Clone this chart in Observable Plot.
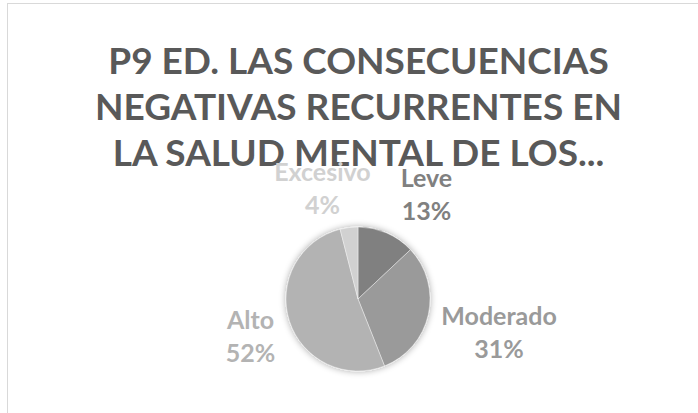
<!DOCTYPE html>
<html><head><meta charset="utf-8">
<script src="https://cdn.jsdelivr.net/npm/d3@7"></script>
<script src="https://cdn.jsdelivr.net/npm/@observablehq/plot@0.6"></script>
<style>
html,body{margin:0;padding:0;background:#fff;overflow:hidden}
#wrap{position:relative;width:698px;height:413px;overflow:hidden;background:#fff}
#border{position:absolute;left:7px;top:3px;width:720px;height:440px;border:1.5px solid #d9d9d9;box-sizing:border-box}
#chart{position:absolute;left:0;top:0}
</style></head><body>
<div id="wrap"><div id="border"></div><div id="chart"></div></div>
<script>
const titleLines = ["P9 ED. LAS CONSECUENCIAS", "NEGATIVAS RECURRENTES EN", "LA SALUD MENTAL DE LOS..."];
const categories = ["Leve", "Moderado", "Alto", "Excesivo"];
const values = [13, 31, 52, 4];
const colors = ["#808080", "#9a9a9a", "#b3b3b3", "#d1d1d1"];

const W = 698, H = 413, R = 72;
const FONT = "Lato";
const labelSize = 25, labelLH = 1.32;

const data = categories.map((c, i) => ({name: c, value: values[i], color: colors[i]}));
const total = d3.sum(values);
const arcs = d3.pie().sort(null).value(d => d.value)(data);

// measure text
const ctx = document.createElement("canvas").getContext("2d");
ctx.font = `bold ${labelSize}px ${FONT}`;
const tw = s => ctx.measureText(s).width;

const gap = 10, boxH = 52, minGapX = 30;
const labels = arcs.map(a => {
  const mid = (a.startAngle + a.endAngle) / 2;
  const ux = Math.sin(mid), uy = Math.cos(mid);
  const pct = Math.round(a.data.value / total * 100) + "%";
  const w = Math.max(tw(a.data.name), tw(pct));
  const d = R + gap + Math.abs(ux) * w / 2 + Math.abs(uy) * boxH / 2;
  return {name: a.data.name, pct, color: a.data.color, x: ux * d, y: uy * d, w};
});
// resolve overlaps horizontally
for (let i = 0; i < labels.length; i++) {
  for (let j = i + 1; j < labels.length; j++) {
    const A = labels[i], B = labels[j];
    if (Math.abs(A.y - B.y) >= boxH) continue;
    const [L, Rt] = A.x < B.x ? [A, B] : [B, A];
    const space = (Rt.x - Rt.w / 2) - (L.x + L.w / 2);
    if (space < minGapX) {
      const s = (minGapX - space) / 2;
      L.x -= s; Rt.x += s;
    }
  }
}

function pieMark(index, scales) {
  const cx = scales.x(0), cy = scales.y(0), r = scales.x(R) - scales.x(0);
  const arc = d3.arc().innerRadius(0).outerRadius(r);
  const g = d3.create("svg:g");
  const f = g.append("defs").append("filter").attr("id", "pshadow")
    .attr("x", "-30%").attr("y", "-30%").attr("width", "160%").attr("height", "160%");
  f.append("feGaussianBlur").attr("in", "SourceAlpha").attr("stdDeviation", 3.5).attr("result", "b");
  f.append("feComponentTransfer").attr("in", "b").attr("result", "c")
    .append("feFuncA").attr("type", "linear").attr("slope", 0.35);
  const m = f.append("feMerge");
  m.append("feMergeNode").attr("in", "c");
  m.append("feMergeNode").attr("in", "SourceGraphic");
  const gg = g.append("g").attr("transform", `translate(${cx},${cy})`).attr("filter", "url(#pshadow)");
  gg.selectAll("path").data(arcs).join("path")
    .attr("d", arc)
    .attr("fill", d => d.data.color)
    .attr("stroke", "#ffffff").attr("stroke-opacity", 0.5).attr("stroke-width", 0.8);
  return g.node();
}

const chart = Plot.plot({
  width: W, height: H,
  marginTop: 0, marginRight: 0, marginBottom: 0, marginLeft: 0,
  x: {domain: [-358, 340], axis: null},
  y: {domain: [-114, 299], axis: null},
  color: {type: "identity"},
  style: {background: "transparent", fontFamily: FONT},
  marks: [
    pieMark,
    Plot.text([titleLines.join("\n")], {
      frameAnchor: "top", dx: 9, dy: 41, lineAnchor: "top", lineHeight: 46 / 37,
      fontSize: 37, fontWeight: 700, fill: "#595959"
    }),
    Plot.text(labels, {
      x: "x", y: "y", text: d => d.name + "\n" + d.pct, fill: "color",
      fontSize: labelSize, fontWeight: 700, lineAnchor: "middle", lineHeight: labelLH
    })
  ]
});
document.getElementById("chart").appendChild(chart);
</script>
</body></html>
